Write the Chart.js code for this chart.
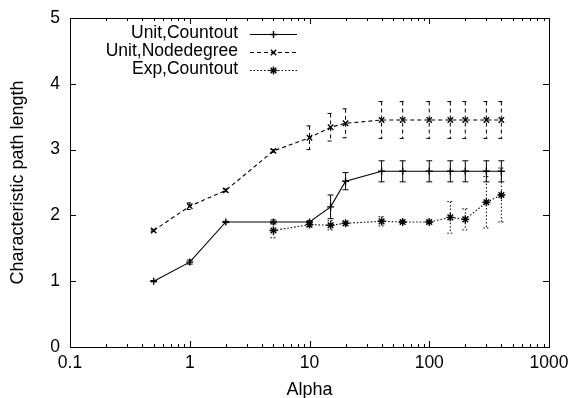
<!DOCTYPE html>
<html><head><meta charset="utf-8">
<script src="https://cdn.jsdelivr.net/npm/chart.js@4/dist/chart.umd.min.js"></script>
<style>html,body{margin:0;padding:0;background:#fff}#wrap{width:571px;height:398px;position:relative}</style>
</head><body><div id="wrap"><canvas id="c"></canvas></div>
<script>
const seriesLabels = ['Unit,Countout', 'Unit,Nodedegree', 'Exp,Countout'];

const alphaUnitCountout = [0.5, 1, 2, 5, 10, 15, 20, 40, 60, 100, 150, 200, 300, 400];
const pathUnitCountout  = [1.00, 1.29, 1.90, 1.90, 1.90, 2.13, 2.52, 2.67, 2.67, 2.67, 2.67, 2.67, 2.67, 2.67];
const errUnitCountout   = [0.01, 0.03, 0.01, 0.03, 0.02, 0.18, 0.13, 0.16, 0.16, 0.16, 0.16, 0.16, 0.16, 0.16];

const alphaUnitNodedegree = [0.5, 1, 2, 5, 10, 15, 20, 40, 60, 100, 150, 200, 300, 400];
const pathUnitNodedegree  = [1.77, 2.14, 2.38, 2.98, 3.18, 3.34, 3.40, 3.45, 3.45, 3.45, 3.45, 3.45, 3.45, 3.45];
const errUnitNodedegree   = [0.01, 0.05, 0.02, 0.02, 0.18, 0.21, 0.22, 0.28, 0.28, 0.28, 0.28, 0.28, 0.28, 0.28];

const alphaExpCountout = [5, 10, 15, 20, 40, 60, 100, 150, 200, 300, 400];
const pathExpCountout  = [1.77, 1.86, 1.85, 1.88, 1.91, 1.90, 1.90, 1.97, 1.94, 2.20, 2.31];
const errExpCountout   = [0.11, 0.03, 0.07, 0.03, 0.07, 0.02, 0.02, 0.24, 0.16, 0.39, 0.41];

const xTickValues = [0.1, 1, 10, 100, 1000];
const xTickLabels = ['0.1', '1', '10', '100', '1000'];
const yTickValues = [0, 1, 2, 3, 4, 5];

const FONT = '"Liberation Sans", Arial, Helvetica, sans-serif';

function pts(xs, ys, es) { return xs.map((x, i) => ({ x: x, y: ys[i], err: es[i] })); }

const datasets = [
  { label: seriesLabels[0], data: pts(alphaUnitCountout, pathUnitCountout, errUnitCountout),
    borderDash: [], pointStyle: 'cross', pointRadius: 3.5 },
  { label: seriesLabels[1], data: pts(alphaUnitNodedegree, pathUnitNodedegree, errUnitNodedegree),
    borderDash: [4, 3], pointStyle: 'crossRot', pointRadius: 3.8 },
  { label: seriesLabels[2], data: pts(alphaExpCountout, pathExpCountout, errExpCountout),
    borderDash: [1.5, 2], pointStyle: 'star', pointRadius: 4 }
].map(d => Object.assign({
  borderColor: '#000', backgroundColor: '#000', borderWidth: 1.1,
  pointBorderColor: '#000', pointBorderWidth: 1.4, pointHoverRadius: 4,
  tension: 0, fill: false
}, d));

function zeroPad(s) { s.paddingLeft = 0; s.paddingRight = 0; s.paddingTop = 0; s.paddingBottom = 0; }

const frameTicksPlugin = {
  id: 'frameTicks',
  beforeDatasetsDraw(chart) {
    const ctx = chart.ctx;
    const ys = chart.scales.y;
    ctx.save();
    chart.data.datasets.forEach((ds, i) => {
      const meta = chart.getDatasetMeta(i);
      ctx.strokeStyle = '#000';
      ctx.lineWidth = 1;
      ctx.setLineDash(ds.borderDash || []);
      ds.data.forEach((p, j) => {
        const px = meta.data[j].x;
        const t = ys.getPixelForValue(p.y + p.err);
        const b = ys.getPixelForValue(p.y - p.err);
        ctx.beginPath();
        ctx.moveTo(px, t); ctx.lineTo(px, b);
        ctx.moveTo(px - 3, t); ctx.lineTo(px + 3, t);
        ctx.moveTo(px - 3, b); ctx.lineTo(px + 3, b);
        ctx.stroke();
      });
    });
    ctx.setLineDash([]);
    ctx.restore();
  },
  afterDraw(chart) {
    const ctx = chart.ctx, a = chart.chartArea;
    const xs = chart.scales.x, ys = chart.scales.y;
    ctx.save();
    ctx.strokeStyle = '#000';
    ctx.lineWidth = 1;
    ctx.setLineDash([]);
    ctx.strokeRect(Math.round(a.left) + 0.5, Math.round(a.top) + 0.5,
                   Math.round(a.right - a.left), Math.round(a.bottom - a.top));
    ctx.beginPath();
    yTickValues.forEach(v => {
      const py = Math.round(ys.getPixelForValue(v)) + 0.5;
      ctx.moveTo(a.left, py); ctx.lineTo(a.left + 6, py);
      ctx.moveTo(a.right, py); ctx.lineTo(a.right - 6, py);
    });
    for (let dec = 0.1; dec < 1000; dec *= 10) {
      for (let m = 1; m <= 10; m++) {
        const v = dec * m;
        const px = Math.round(xs.getPixelForValue(v)) + 0.5;
        const len = (m === 1 || m === 10) ? 6 : 3;
        ctx.moveTo(px, a.bottom); ctx.lineTo(px, a.bottom - len);
        ctx.moveTo(px, a.top); ctx.lineTo(px, a.top + len);
      }
    }
    ctx.stroke();

    // legend
    ctx.font = '17.5px ' + FONT;
    ctx.fillStyle = '#000';
    ctx.textAlign = 'right';
    ctx.textBaseline = 'middle';
    chart.data.datasets.forEach((ds, i) => {
      const y = 33.5 + i * 18;
      ctx.fillText(ds.label, 238, y);
      ctx.setLineDash(ds.borderDash || []);
      ctx.lineWidth = 1.1;
      ctx.beginPath();
      ctx.moveTo(250, Math.round(y) + 0.5); ctx.lineTo(297, Math.round(y) + 0.5);
      ctx.stroke();
      ctx.setLineDash([]);
      ctx.lineWidth = 1.4;
      Chart.helpers.drawPoint(ctx, { pointStyle: ds.pointStyle, radius: ds.pointRadius, borderWidth: 1.4 }, 273.5, Math.round(y) + 0.5);
    });
    ctx.restore();
  }
};

new Chart(document.getElementById('c'), {
  type: 'line',
  data: { datasets: datasets },
  options: {
    responsive: true,
    maintainAspectRatio: false,
    animation: false,
    layout: { padding: { top: 18, right: 22, left: 0, bottom: 0 } },
    plugins: { legend: { display: false }, tooltip: { enabled: false } },
    scales: {
      x: {
        type: 'logarithmic', min: 0.1, max: 1000,
        afterBuildTicks: s => { s.ticks = xTickValues.map(v => ({ value: v })); },
        afterFit: s => { s.height = 51; zeroPad(s); },
        grid: { display: false, drawTicks: false }, border: { display: false },
        ticks: { autoSkip: false, maxRotation: 0, padding: 6, color: '#000',
                 font: { family: FONT, size: 17.5 },
                 callback: (v, i) => xTickLabels[i] },
        title: { display: true, text: 'Alpha', color: '#000', padding: { top: 0, bottom: -1 },
                 font: { family: FONT, size: 18, lineHeight: 1 } }
      },
      y: {
        type: 'linear', min: 0, max: 5,
        afterBuildTicks: s => { s.ticks = yTickValues.map(v => ({ value: v })); },
        afterFit: s => { s.width = 70; zeroPad(s); },
        grid: { display: false, drawTicks: false }, border: { display: false },
        ticks: { padding: 10, color: '#000', font: { family: FONT, size: 17.5 },
                 callback: v => String(v) },
        title: { display: true, text: 'Characteristic path length', color: '#000',
                 padding: { top: 9, bottom: 0 }, font: { family: FONT, size: 18, lineHeight: 1 } }
      }
    }
  },
  plugins: [frameTicksPlugin]
});
</script>
</body></html>
